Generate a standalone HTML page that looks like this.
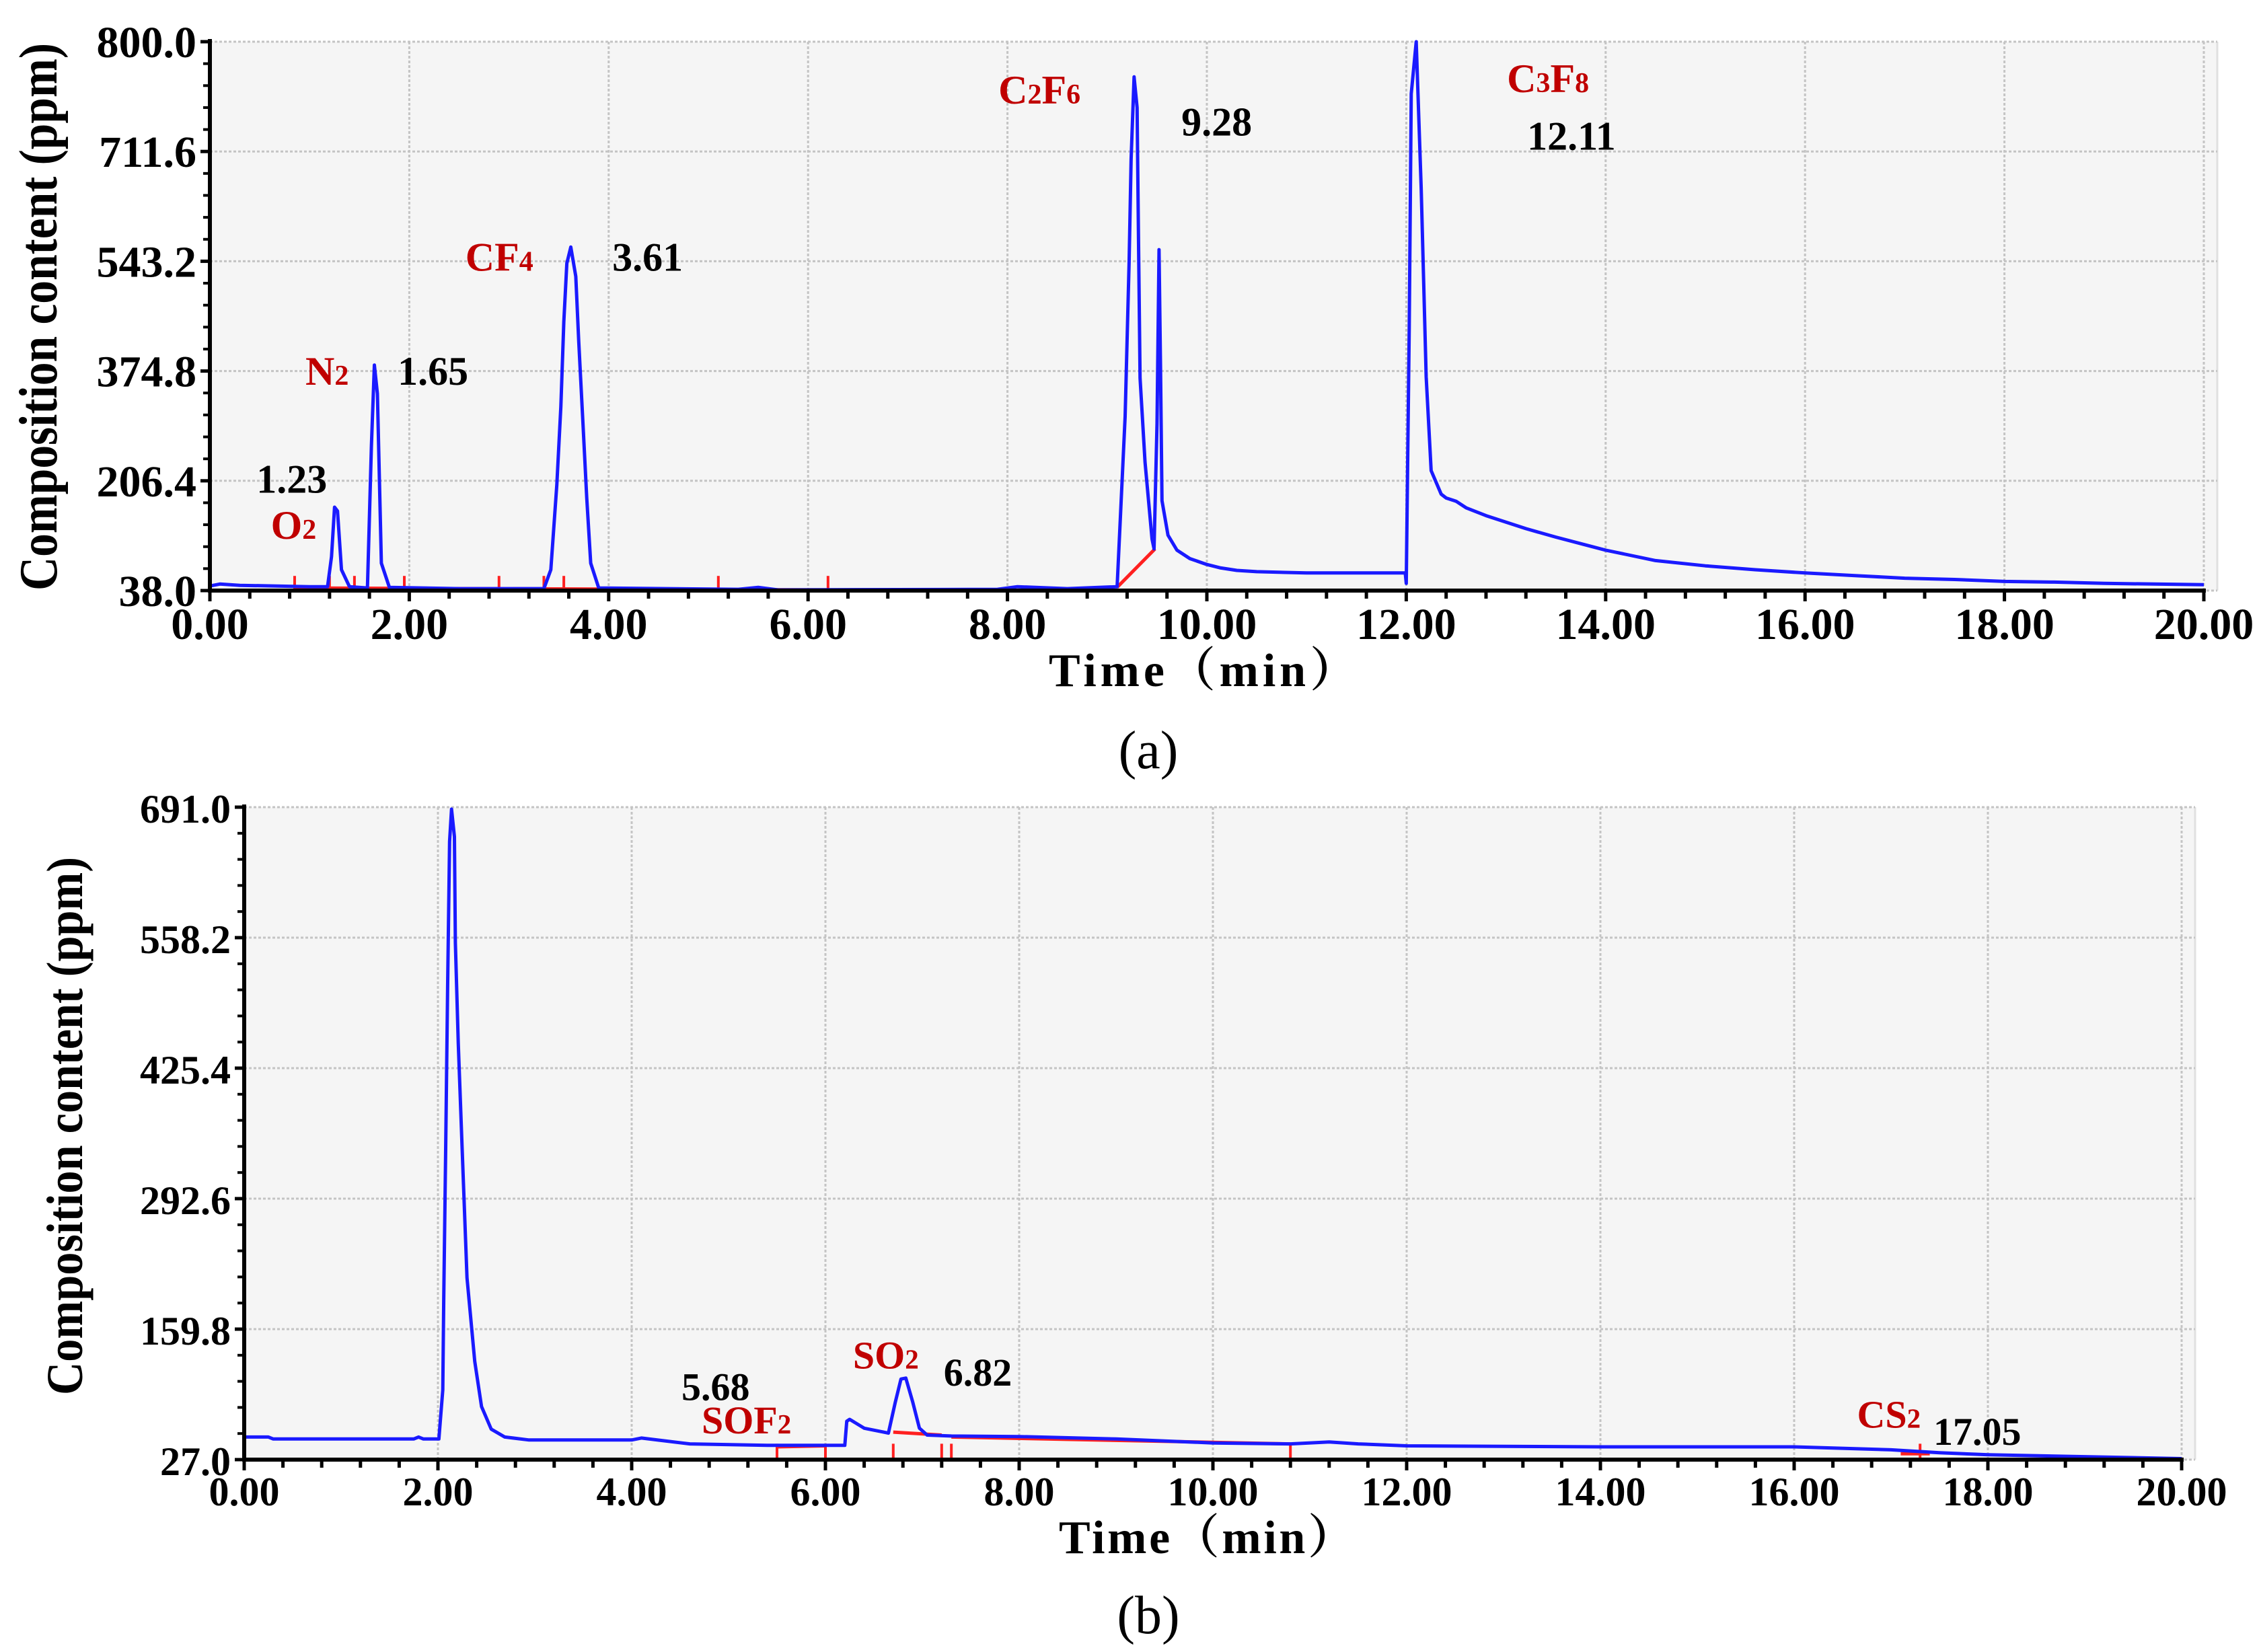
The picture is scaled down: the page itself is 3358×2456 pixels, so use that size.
<!DOCTYPE html>
<html><head><meta charset="utf-8">
<style>
html,body{margin:0;padding:0;background:#fff;}
svg{display:block;}
text{font-family:"Liberation Serif","Noto Serif CJK SC",serif;}
</style></head>
<body>
<svg id="fig" width="3358" height="2456" viewBox="0 0 3358 2456" xmlns="http://www.w3.org/2000/svg">
</svg>
<script>
// ---------- Panel (a) data ----------
const aTimes  = [0,0.1,0.3,1.0,1.18,1.22,1.25,1.28,1.32,1.4,1.58,1.62,1.65,1.68,1.72,1.8,2.5,3.35,3.42,3.48,3.52,3.55,3.58,3.62,3.67,3.70,3.74,3.78,3.82,3.9,5.3,5.5,5.7,7.9,8.1,8.6,9.1,9.18,9.22,9.24,9.27,9.30,9.31,9.33,9.38,9.45,9.47,9.50,9.52,9.535,9.55,9.61,9.7,9.83,10.0,10.13,10.3,10.5,11.0,11.99,12.0,12.03,12.05,12.1,12.15,12.2,12.25,12.35,12.4,12.5,12.6,12.8,13.0,13.2,13.5,13.8,14.0,14.5,15.0,15.5,16.0,16.5,17.0,17.5,18.0,18.5,19.0,19.5,20.0];
const aValues = [45,48,46,44,44,90,166,160,70,44,42,260,384,340,80,43,41,41,70,200,320,450,540,565,520,420,300,180,80,42,40,43,39,40,44,41,44,305,541,700,826,779,641,364,235,117,102,294,561,382,176,123,100,87,78,73,69,67,65,65,49,438,800,880,655,366,222,186,180,175,165,153,143,133,120,108,100,84,76,70,65,61,57,55,52,51,49,48,47];
const aYTickValues = [38,206.4,374.8,543.2,711.6,880];
const aYTickLabels = ["38.0","206.4","374.8","543.2","711.6","800.0"];
const aXTickValues = [0,2,4,6,8,10,12,14,16,18,20];
const aXTickLabels = ["0.00","2.00","4.00","6.00","8.00","10.00","12.00","14.00","16.00","18.00","20.00"];
const aRedSegT0 = [0.85,9.1];
const aRedSegT1 = [6.2,9.48];
const aRedSegV0 = [42,43];
const aRedSegV1 = [39,102];
const aRedTicks = [0.85,1.2,1.45,1.95,2.9,3.35,3.55,5.1,6.2];
// ---------- Panel (b) data ----------
const bTimes  = [0,0.25,0.3,1.75,1.8,1.85,2.01,2.05,2.06,2.08,2.10,2.12,2.14,2.17,2.18,2.21,2.25,2.30,2.38,2.45,2.55,2.69,2.94,4.0,4.1,4.6,5.4,6.2,6.22,6.25,6.4,6.6,6.65,6.72,6.78,6.83,6.9,6.97,7.05,7.3,8.0,9.0,10.0,10.8,11.2,11.5,12.0,14.0,16.0,17.0,17.5,18.0,20.0];
const bValues = [50,50,48,48,50,48,48,98,189,343,508,656,689,661,553,451,343,212,127,81,58,50,47,47,49,43,41.5,41.5,66,68,59,55,54,85,109,110,86,59,52,51,50.5,48,44,43,45,43,41,40,40,37,34,32,28];
const bYTickValues = [27,159.8,292.6,425.4,558.2,691];
const bYTickLabels = ["27.0","159.8","292.6","425.4","558.2","691.0"];
const bXTickValues = [0,2,4,6,8,10,12,14,16,18,20];
const bXTickLabels = ["0.00","2.00","4.00","6.00","8.00","10.00","12.00","14.00","16.00","18.00","20.00"];
const bRedSegT0 = [5.5,6.7,7.3,17.1];
const bRedSegT1 = [6.0,7.2,10.8,17.4];
const bRedSegV0 = [40,55,50,33];
const bRedSegV1 = [41,52,43,33];
const bRedTicks = [5.5,6.0,6.7,7.2,7.3,10.8,17.3];

const NS = "http://www.w3.org/2000/svg";
const svg = document.getElementById("fig");
function mk(tag, attrs, parent){
  const e = document.createElementNS(NS, tag);
  for (const k in attrs) e.setAttribute(k, attrs[k]);
  (parent||svg).appendChild(e);
  return e;
}

function drawPanel(p){
  const g = mk("g", {});
  
  
  const xS = t => p.x0 + (t - p.tMin) / (p.tMax - p.tMin) * (p.x1 - p.x0);
  const yS = v => p.yB - (v - p.vMin) / (p.vMax - p.vMin) * (p.yB - p.yT);
  const bg = mk("rect", {x:p.x0, y:p.yT, width:p.x1-p.x0+20, height:p.yB-p.yT, fill:"#f5f5f5"}, g);
  
  
  mk("line", {x1:p.x1+20, y1:p.yT, x2:p.x1+20, y2:p.yB, stroke:"#e0e0e0", "stroke-width":3}, g);
  p.yTicks.forEach(v => {
    const gl = mk("line", {x1:p.x0, x2:p.x1+20, y1:yS(v), y2:yS(v), stroke:"#c4c4c4", "stroke-width":3, "stroke-dasharray":"4 3"}, g);
    
    
  });
  p.xTicks.forEach(t => {
    const gl = mk("line", {x1:xS(t), x2:xS(t), y1:p.yT, y2:p.yB, stroke:"#c4c4c4", "stroke-width":3, "stroke-dasharray":"4 3"}, g);
    
    
  });
  for (let i=0;i<p.rT0.length;i++){
    const r = mk("line", {x1:xS(p.rT0[i]), y1:yS(p.rV0[i]), x2:xS(p.rT1[i]), y2:yS(p.rV1[i]), stroke:"#ff2020", "stroke-width":5}, g);
    
    
  }
  p.rTicks.forEach(t => {
    const yy = yS(p.vMin + (p.vMax-p.vMin)*0.012);
    const r = mk("line", {x1:xS(t), x2:xS(t), y1:yy-12, y2:yy+12, stroke:"#ff2020", "stroke-width":4}, g);
    
    
  });
  const pts = p.times.map((t,i) => xS(t).toFixed(1)+","+yS(Math.min(p.values[i], p.vMax)).toFixed(1)).join(" ");
  const line = mk("polyline", {points:pts, fill:"none", stroke:"#1a1aff", "stroke-width":5, "stroke-linejoin":"round"}, g);
  
  
  const ya = mk("line", {x1:p.x0, x2:p.x0, y1:p.yT-4, y2:p.yB+3, stroke:"#000", "stroke-width":6}, g);
  
  
  const xa = mk("line", {x1:p.x0-3, x2:p.x1+3, y1:p.yB, y2:p.yB, stroke:"#000", "stroke-width":6}, g);
  
  
  for (let i=0;i<p.yTicks.length;i++){
    const y = yS(p.yTicks[i]);
    mk("line", {x1:p.x0-14, x2:p.x0, y1:y, y2:y, stroke:"#000", "stroke-width":5}, g);
    if (i < p.yTicks.length-1){
      const step = (p.yTicks[i+1]-p.yTicks[i])/5;
      for (let k=1;k<5;k++){
        const yy = yS(p.yTicks[i]+k*step);
        mk("line", {x1:p.x0-10, x2:p.x0, y1:yy, y2:yy, stroke:"#000", "stroke-width":4}, g);
      }
    }
    const lab = mk("text", {x:p.x0-20, y:y+23, "text-anchor":"end", "font-size":p.tickFont, "font-weight":"bold", fill:"#000"}, g);
    lab.textContent = p.yLabels[i];
    
    
  }
  for (let t=p.tMin; t<=p.tMax+1e-6; t+=0.4){
    const major = Math.abs(t/2 - Math.round(t/2)) < 1e-6;
    mk("line", {x1:xS(t), x2:xS(t), y1:p.yB, y2:p.yB+(major?16:12), stroke:"#000", "stroke-width":5}, g);
  }
  p.xTicks.forEach((t,i) => {
    const lab = mk("text", {x:xS(t), y:p.yB+p.xLabelDy, "text-anchor":"middle", "font-size":p.tickFont, "font-weight":"bold", fill:"#000"}, g);
    lab.textContent = p.xLabels[i];
    
    
  });
  return g;
}

drawPanel({name:"panel-a", x0:312, x1:3276, yT:62, yB:878, tMin:0, tMax:20, vMin:38, vMax:880,
  times:aTimes, values:aValues, yTicks:aYTickValues, yLabels:aYTickLabels, xTicks:aXTickValues, xLabels:aXTickLabels,
  rT0:aRedSegT0, rT1:aRedSegT1, rV0:aRedSegV0, rV1:aRedSegV1, rTicks:aRedTicks, tickFont:66, xLabelDy:72});
drawPanel({name:"panel-b", x0:363, x1:3243, yT:1200, yB:2170, tMin:0, tMax:20, vMin:27, vMax:691,
  times:bTimes, values:bValues, yTicks:bYTickValues, yLabels:bYTickLabels, xTicks:bXTickValues, xLabels:bXTickLabels,
  rT0:bRedSegT0, rT1:bRedSegT1, rV0:bRedSegV0, rV1:bRedSegV1, rTicks:bRedTicks, tickFont:60, xLabelDy:68});
</script>

<script>
(function(){
  const NS = "http://www.w3.org/2000/svg";
  const svg = document.getElementById("fig");
  const s = 2.1416;
  function label(name, txt, sub, x, y, size, color, weight, anchor){
    const t = document.createElementNS(NS, "text");
    t.setAttribute("x", x); t.setAttribute("y", y);
    t.setAttribute("font-size", size); t.setAttribute("fill", color);
    t.setAttribute("font-weight", weight||"bold");
    if (anchor) t.setAttribute("text-anchor", anchor);
    
    
    t.appendChild(document.createTextNode(txt));
    if (sub){
      const ts = document.createElementNS(NS, "tspan");
      ts.setAttribute("font-size", Math.round(size*0.7));
      ts.textContent = sub;
      t.appendChild(ts);
    }
    svg.appendChild(t);
    return t;
  }
  const red = "#c00000";
  label("label-o2","O","2",188*s,374*s,60,red);
  label("label-1-23","1.23",null,178*s,342*s,60,"#000");
  label("label-n2","N","2",212*s,267*s,60,red);
  label("label-1-65","1.65",null,276*s,267*s,60,"#000");
  label("label-cf4","CF","4",323*s,188*s,60,red);
  label("label-3-61","3.61",null,425*s,188*s,60,"#000");
  const c2 = label("label-c2f6","C",null,693*s,72*s,60,red);
  c2.innerHTML = 'C<tspan font-size="42">2</tspan>F<tspan font-size="42">6</tspan>';
  label("label-9-28","9.28",null,820*s,94*s,60,"#000");
  const c3 = label("label-c3f8","C",null,1046*s,64*s,60,red);
  c3.innerHTML = 'C<tspan font-size="42">3</tspan>F<tspan font-size="42">8</tspan>';
  label("label-12-11","12.11",null,1060*s,104*s,60,"#000","bold");
  label("label-5-68","5.68",null,473*s,972*s,58,"#000");
  label("label-sof2","SOF","2",487*s,995*s,58,red);
  label("label-so2","SO","2",592*s,950*s,58,red);
  label("label-6-82","6.82",null,655*s,962*s,58,"#000");
  label("label-cs2","CS","2",1289*s,991*s,58,red);
  label("label-17-05","17.05",null,1342*s,1003*s,58,"#000");
  const xa = label("x-axis-title-a","Time（min）",null,1559,1020,70,"#000");
  xa.setAttribute("textLength","458");
  const xb = label("x-axis-title-b","Time（min）",null,1574,2309,70,"#000");
  xb.setAttribute("textLength","440");
  const ya = label("y-axis-title-a","Composition content (ppm)",null,0,0,80,"#000","bold","middle");
  ya.setAttribute("transform","translate(84,471) rotate(-90)");
  ya.setAttribute("textLength","814");
  ya.setAttribute("lengthAdjust","spacingAndGlyphs");
  const yb = label("y-axis-title-b","Composition content (ppm)",null,0,0,76,"#000","bold","middle");
  yb.setAttribute("transform","translate(122,1674) rotate(-90)");
  yb.setAttribute("textLength","800");
  yb.setAttribute("lengthAdjust","spacingAndGlyphs");
  label("caption-a","(a)",null,1707,1142,80,"#000","normal","middle");
  label("caption-b","(b)",null,1707,2428,80,"#000","normal","middle");
})();
</script>
</body></html>
